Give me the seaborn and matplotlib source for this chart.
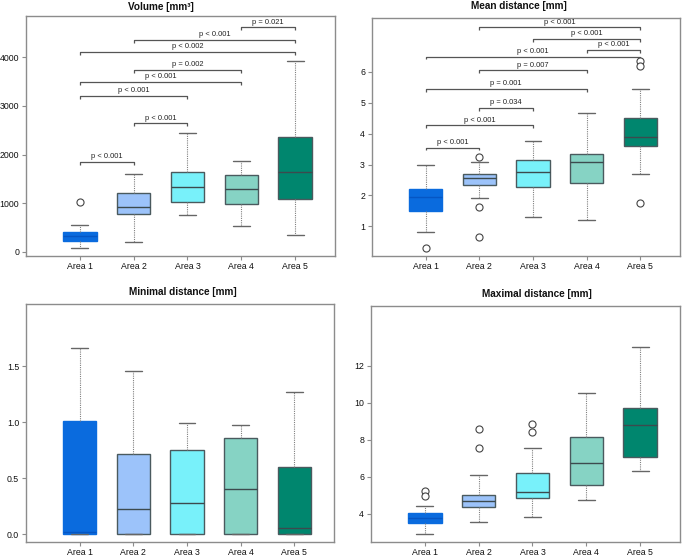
import matplotlib
matplotlib.use("Agg")
import matplotlib.pyplot as plt
import seaborn as sns
import pandas as pd

sns.set_style("ticks")
plt.rcParams['font.family'] = ['Liberation Sans', 'DejaVu Sans']

areas = ["Area 1", "Area 2", "Area 3", "Area 4", "Area 5"]
colors = ["#0A6BDE", "#9CC3FA", "#78F1FA", "#86D3C4", "#00866E"]

# Volume [mm3]
vol_low = [82, 199, 762, 528, 336]
vol_q1 = [213, 782, 1016, 975, 1091]
vol_med = [320, 927, 1338, 1297, 1640]
vol_q3 = [412, 1201, 1647, 1572, 2354]
vol_high = [549, 1599, 2437, 1860, 3926]
vol_out_area = ["Area 1"]
vol_out_val = [1023]
vol_pairs = [(0, 1), (1, 2), (0, 2), (0, 3), (1, 3), (0, 4), (1, 4), (3, 4)]
vol_p_y = [1853, 2642, 3212, 3500, 3741, 4118, 4358, 4619]
vol_p_txt = ["p < 0.001", "p < 0.001", "p < 0.001", "p < 0.001", "p = 0.002",
             "p < 0.002", "p < 0.001", "p = 0.021"]
vol_ticks = [0, 1000, 2000, 3000, 4000]

# Mean distance [mm]
mean_low = [0.81, 1.91, 1.31, 1.19, 2.69]
mean_q1 = [1.51, 2.33, 2.26, 2.39, 3.60]
mean_med = [1.94, 2.56, 2.77, 3.08, 3.90]
mean_q3 = [2.22, 2.68, 3.16, 3.33, 4.49]
mean_high = [3.00, 3.08, 3.77, 4.68, 5.44]
mean_out_area = ["Area 1", "Area 2", "Area 2", "Area 2", "Area 5", "Area 5", "Area 5"]
mean_out_val = [0.29, 3.25, 1.63, 0.65, 6.35, 6.19, 1.75]
mean_pairs = [(0, 1), (0, 2), (1, 2), (0, 3), (1, 3), (0, 4), (3, 4), (2, 4), (1, 4)]
mean_p_y = [3.55, 4.27, 4.83, 5.44, 6.05, 6.49, 6.70, 7.07, 7.44]
mean_p_txt = ["p < 0.001", "p < 0.001", "p = 0.034", "p = 0.001", "p = 0.007",
              "p < 0.001", "p < 0.001", "p < 0.001", "p < 0.001"]
mean_ticks = [1, 2, 3, 4, 5, 6]

# Minimal distance [mm]
min_low = [0.0, 0.0, 0.0, 0.0, 0.0]
min_q1 = [0.0, 0.0, 0.0, 0.0, 0.0]
min_med = [0.02, 0.23, 0.28, 0.40, 0.06]
min_q3 = [1.015, 0.72, 0.75, 0.86, 0.60]
min_high = [1.667, 1.46, 0.99, 0.98, 1.27]
min_ticks = [0.0, 0.5, 1.0, 1.5]

# Maximal distance [mm]
max_low = [2.90, 3.55, 3.80, 4.72, 6.31]
max_q1 = [3.50, 4.34, 4.83, 5.57, 7.05]
max_med = [3.75, 4.68, 5.15, 6.72, 8.77]
max_q3 = [4.05, 5.03, 6.22, 8.13, 9.71]
max_high = [4.41, 6.09, 7.55, 10.52, 13.01]
max_out_area = ["Area 1", "Area 1", "Area 2", "Area 2", "Area 3", "Area 3"]
max_out_val = [5.23, 4.95, 7.55, 8.56, 8.43, 8.85]
max_ticks = [4, 6, 8, 10, 12]

W, H = 685, 556
fig = plt.figure(figsize=(W / 100, H / 100), dpi=100)


def add_ax(left, right, top, bottom):
    return fig.add_axes([left / W, 1 - bottom / H, (right - left) / W, (bottom - top) / H])


def panel(ax, low, q1, med, q3, high, out_area, out_val, ylim, yticks, ytl,
          pairs=None, p_y=None, p_txt=None):
    rows = []
    for stat in (low, q1, med, q3, high):
        for a, v in zip(areas, stat):
            rows.append((a, v))
    df = pd.DataFrame(rows, columns=["area", "value"])
    sns.boxplot(data=df, x="area", y="value", hue="area", order=areas, hue_order=areas,
                palette=colors, saturation=1, legend=False, whis=(0, 100), width=0.62,
                showfliers=False, linewidth=1.0, linecolor="#4a5a5e",
                whiskerprops=dict(color="#808080", linestyle=(0, (1, 1)), linewidth=0.8),
                capprops=dict(color="#666666", linewidth=1.0),
                medianprops=dict(color="#3c4a4e", linewidth=1.0),
                ax=ax)
    # Area 1 box drawn without a dark border, median in a darker blue
    if ax.patches:
        ax.patches[0].set_edgecolor(colors[0])
    n0 = len(ax.lines) // len(areas)
    for ln in ax.lines[:n0]:
        if ln.get_linestyle() == "-" and len(ln.get_xdata()) == 2:
            ys = ln.get_ydata()
            if ys[0] == ys[1] and abs(ys[0] - med[0]) < 1e-9:
                ln.set_color("#0556C4")
    if out_val:
        odf = pd.DataFrame({"area": out_area, "value": out_val})
        sns.scatterplot(data=odf, x="area", y="value", ax=ax, marker="o", s=26,
                        facecolor="white", edgecolor="#444444", linewidth=0.8, zorder=5)
    ax.set_xlim(-1.0, 4.74)
    ax.set_ylim(*ylim)
    ax.set_yticks(yticks)
    ax.set_yticklabels(ytl)
    ax.set_xticks(range(len(areas)))
    ax.set_xticklabels(areas)
    ax.set_xlabel("")
    ax.set_ylabel("")
    for s in ax.spines.values():
        s.set_visible(True)
        s.set_color("#8c8c8c")
        s.set_linewidth(1.0)
    ax.tick_params(axis="both", length=3, width=0.8, color="#8c8c8c",
                   labelsize=6.3, pad=2, labelcolor="#111111")
    ax.tick_params(axis="x", pad=1.5)
    if pairs:
        rng = ylim[1] - ylim[0]
        drop = 0.012 * rng
        for (i, j), y, t in zip(pairs, p_y, p_txt):
            ax.plot([i, i, j, j], [y - drop, y, y, y - drop], color="#555555",
                    linewidth=0.9, solid_capstyle="butt", zorder=4)
            ax.annotate(t, xy=((i + j) / 2, y), xytext=(0, 1.2), textcoords="offset points",
                        ha="center", va="bottom", fontsize=5.4, color="#222222")


ax1 = add_ax(26, 335, 16, 256)
panel(ax1, vol_low, vol_q1, vol_med, vol_q3, vol_high, vol_out_area, vol_out_val,
      (-89, 4853), vol_ticks, [str(t) for t in vol_ticks], vol_pairs, vol_p_y, vol_p_txt)

ax2 = add_ax(372, 680, 18, 256)
panel(ax2, mean_low, mean_q1, mean_med, mean_q3, mean_high, mean_out_area, mean_out_val,
      (0.04, 7.74), mean_ticks, [str(t) for t in mean_ticks], mean_pairs, mean_p_y, mean_p_txt)

ax3 = add_ax(26, 334, 304, 542)
panel(ax3, min_low, min_q1, min_med, min_q3, min_high, [], [],
      (-0.069, 2.056), min_ticks, [f"{t:.1f}" for t in min_ticks])

ax4 = add_ax(371, 680, 306, 542)
panel(ax4, max_low, max_q1, max_med, max_q3, max_high, max_out_area, max_out_val,
      (2.47, 15.23), max_ticks, [str(t) for t in max_ticks])

titles = [("Volume [mm³]", 161, 7), ("Mean distance [mm]", 519, 6),
          ("Minimal distance [mm]", 183, 292), ("Maximal distance [mm]", 537, 294)]
for txt, x, y in titles:
    fig.text(x / W, 1 - y / H, txt, ha="center", va="center", fontsize=7.2,
             fontweight="bold", color="#111111")

fig.savefig("out.png", dpi=100)
